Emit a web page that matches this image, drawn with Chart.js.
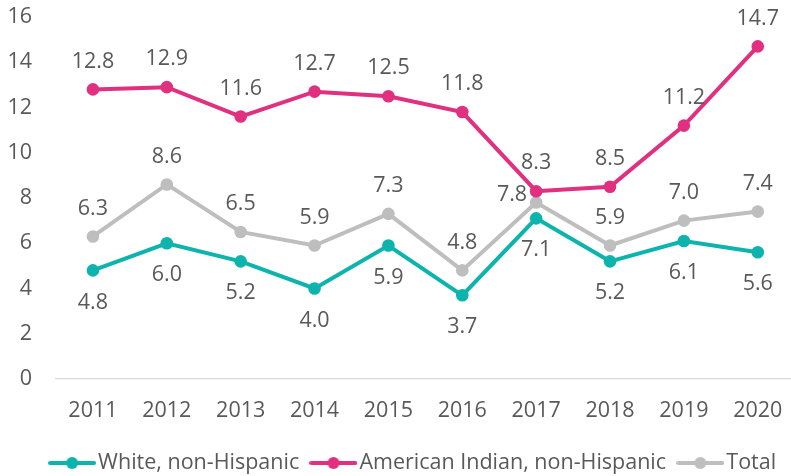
<!DOCTYPE html>
<html>
<head>
<meta charset="utf-8">
<script src="https://cdn.jsdelivr.net/npm/chart.js@4"></script>
<style>
  html, body { margin: 0; padding: 0; background: #fff; }
  #wrap { width: 791px; height: 476px; overflow: hidden; position: relative; }
  #box { width: 801px; height: 476px; position: absolute; left: 0; top: 0; }
</style>
</head>
<body>
<div id="wrap"><div id="box"><canvas id="lineChart"></canvas></div></div>
<script>
// data
var years = ['2011', '2012', '2013', '2014', '2015', '2016', '2017', '2018', '2019', '2020'];
var white_vals = [4.8, 6.0, 5.2, 4.0, 5.9, 3.7, 7.1, 5.2, 6.1, 5.6];
var amind_vals = [12.8, 12.9, 11.6, 12.7, 12.5, 11.8, 8.3, 8.5, 11.2, 14.7];
var total_vals = [6.3, 8.6, 6.5, 5.9, 7.3, 4.8, 7.8, 5.9, 7.0, 7.4];
var y_ticks = [0, 2, 4, 6, 8, 10, 12, 14, 16];

// where each value label sits
var white_pos = ['below', 'below', 'below', 'below', 'below', 'below', 'below', 'below', 'below', 'below'];
var amind_pos = ['above', 'above', 'above', 'above', 'above', 'above', 'above', 'above', 'above', 'above'];
var total_pos = ['above', 'above', 'above', 'above', 'above', 'above', 'left', 'above', 'above', 'above'];

var TEAL = '#0db4ae';
var PINK = '#e0307f';
var GREY = '#bebebe';
var TXT = '#595959';
var FONT = "'Open Sans', sans-serif";
var FSIZE = 21.5;

// legend marker: short line with a dot in the middle
function legendMark(color) {
    var c = document.createElement('canvas');
    c.width = 48;
    c.height = 14;
    var ctx = c.getContext('2d');
    ctx.strokeStyle = color;
    ctx.lineWidth = 4;
    ctx.lineCap = 'round';
    ctx.beginPath();
    ctx.moveTo(2, 7);
    ctx.lineTo(46, 7);
    ctx.stroke();
    ctx.fillStyle = color;
    ctx.beginPath();
    ctx.arc(24, 7, 6, 0, 2 * Math.PI);
    ctx.fill();
    return c;
}

var valueLabels = {
    id: 'valueLabels',
    afterLayout: function(chart) {
        // the legend in the picture sits a bit right of the canvas middle
        if (chart.legend) {
            chart.legend.left += 16;
            chart.legend.right += 16;
        }
    },
    afterDatasetsDraw: function(chart) {
        var ctx = chart.ctx;
        ctx.save();
        ctx.font = FSIZE + 'px ' + FONT;
        ctx.fillStyle = TXT;
        ctx.textBaseline = 'middle';
        chart.data.datasets.forEach(function(ds, i) {
            var meta = chart.getDatasetMeta(i);
            meta.data.forEach(function(pt, j) {
                var txt = ds.data[j].toFixed(1);
                var where = ds.labelPos[j];
                var x = pt.x, y = pt.y;
                ctx.textAlign = 'center';
                if (where == 'above') {
                    y = y - 28;
                } else if (where == 'below') {
                    y = y + 32;
                } else {
                    ctx.textAlign = 'right';
                    x = x - 9;
                    y = y - 8;
                }
                ctx.fillText(txt, x, y);
            });
        });
        ctx.restore();
    }
};

function makeSet(name, vals, color, pos) {
    return {
        label: name,
        data: vals,
        labelPos: pos,
        borderColor: color,
        backgroundColor: color,
        borderWidth: 4,
        pointRadius: 6.3,
        pointHoverRadius: 6.3,
        pointBorderWidth: 0,
        pointStyle: 'circle',
        tension: 0,
        fill: false
    };
}

var marks = [legendMark(TEAL), legendMark(PINK), legendMark(GREY)];

new Chart(document.getElementById('lineChart'), {
    type: 'line',
    data: {
        labels: years,
        datasets: [
            makeSet('White, non-Hispanic', white_vals, TEAL, white_pos),
            makeSet('American Indian, non-Hispanic', amind_vals, PINK, amind_pos),
            makeSet('Total', total_vals, GREY, total_pos)
        ]
    },
    plugins: [valueLabels],
    options: {
        responsive: true,
        maintainAspectRatio: false,
        animation: false,
        events: [],
        layout: {
            padding: 0
        },
        plugins: {
            tooltip: { enabled: false },
            legend: {
                position: 'bottom',
                maxHeight: 42.75,
                labels: {
                    usePointStyle: true,
                    pointStyleWidth: 30.5,
                    padding: 19,
                    color: TXT,
                    font: { family: FONT, size: FSIZE },
                    generateLabels: function(chart) {
                        return chart.data.datasets.map(function(ds, i) {
                            return {
                                text: ds.label,
                                pointStyle: marks[i],
                                fillStyle: ds.borderColor,
                                strokeStyle: ds.borderColor,
                                lineWidth: 0,
                                fontColor: TXT,
                                hidden: false,
                                datasetIndex: i
                            };
                        });
                    }
                }
            }
        },
        scales: {
            x: {
                offset: true,
                afterFit: function(scale) {
                    scale.height = 54.25;
                    scale.paddingLeft = 0;
                    scale.paddingRight = 0;
                },
                grid: { display: false, drawTicks: false },
                border: { display: true, color: '#d9d9d9', width: 1.3 },
                ticks: {
                    color: TXT,
                    padding: 19,
                    maxRotation: 0,
                    font: { family: FONT, size: FSIZE }
                }
            },
            y: {
                min: 0,
                max: 16,
                afterFit: function(scale) {
                    scale.width = 56;
                    scale.paddingTop = 17;
                    scale.paddingBottom = 0;
                },
                afterBuildTicks: function(scale) {
                    scale.ticks = y_ticks.map(function(v) { return { value: v }; });
                },
                grid: { display: false, drawTicks: false },
                border: { display: false },
                ticks: {
                    color: TXT,
                    padding: 24,
                    font: { family: FONT, size: FSIZE }
                }
            }
        }
    }
});
</script>
</body>
</html>
